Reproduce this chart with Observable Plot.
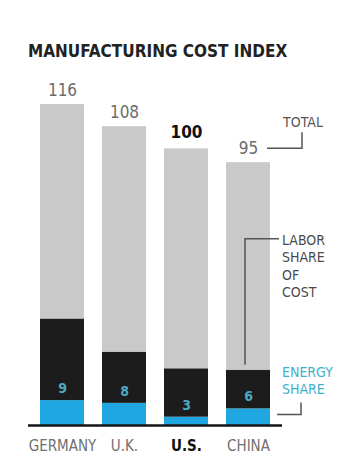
<!DOCTYPE html>
<html><head><meta charset="utf-8">
<script src="https://cdn.jsdelivr.net/npm/d3@7"></script>
<script src="https://cdn.jsdelivr.net/npm/@observablehq/plot@0.6"></script>
<style>
body{margin:0;background:#fff;font-family:"DejaVu Sans Condensed","DejaVu Sans",sans-serif;}
#wrap{width:356px;height:474px;position:relative;overflow:hidden;background:#fff}
#title{position:absolute;left:28px;top:41px;font-weight:bold;font-size:17px;line-height:20px;color:#222;white-space:nowrap}
#chart{position:absolute;left:0;top:70px}
</style></head><body>
<div id="wrap"><div id="title">MANUFACTURING COST INDEX</div><div id="chart"></div></div>
<script>
const countries = ["GERMANY", "U.K.", "U.S.", "CHINA"];
const totals = [116, 108, 100, 95];
const laborShare = [29.5, 18.5, 17.5, 14];
const energyShare = [9, 8, 3, 6];
const segments = ["Energy", "Labor", "Other"];
const segmentColors = ["#1fa7e1", "#1c1c1c", "#c9c9c9"];
const highlight = "U.S.";
const annotationLabels = {total: "TOTAL", labor: ["LABOR", "SHARE", "OF", "COST"], energy: ["ENERGY", "SHARE"]};

const rows = [];
countries.forEach((c, i) => {
  rows.push({country: c, segment: "Energy", value: energyShare[i]});
  rows.push({country: c, segment: "Labor", value: laborShare[i]});
  rows.push({country: c, segment: "Other", value: totals[i] - laborShare[i] - energyShare[i]});
});
const summary = countries.map((c, i) => ({country: c, total: totals[i], labor: laborShare[i], energy: energyShare[i]}));

function annotations(index, scales) {
  const x = scales.x, y = scales.y;
  const bw = typeof x.bandwidth === "function" ? x.bandwidth() : x.bandwidth;
  const ci = countries.indexOf("CHINA");
  const x0 = x("CHINA"), x1 = x0 + bw, xc = x0 + bw / 2;
  const yT = y(totals[ci]);
  const yL = y(energyShare[ci] + laborShare[ci]);
  const yE = y(energyShare[ci]);
  const g = d3.create("svg:g").attr("fill", "none").attr("stroke", "#555").attr("stroke-width", 1.5);
  g.append("path").attr("d", `M${xc + 19},${yT - 14}H${x1 + 32}V${yT - 30}`);
  g.append("path").attr("d", `M${x1 + 9},${yL - 131}H${xc - 3}V${yL - 5}`);
  g.append("path").attr("d", `M${x1 + 7},${yE + 6}H${x1 + 31}V${yE - 6}`);
  const t = g.append("g").attr("stroke", "none").attr("font-size", 14)
    .attr("font-family", '"DejaVu Sans Condensed","DejaVu Sans",sans-serif');
  t.append("text").attr("x", x1 + 33).attr("y", yT - 40).attr("dy", "0.35em")
    .attr("text-anchor", "middle").attr("fill", "#555").text(annotationLabels.total);
  annotationLabels.labor.forEach((s, k) => t.append("text").attr("x", x1 + 12).attr("y", yL - 130 + k * 17.5)
    .attr("dy", "0.35em").attr("text-anchor", "start").attr("fill", "#4a4a4a").text(s));
  annotationLabels.energy.forEach((s, k) => t.append("text").attr("x", x1 + 12).attr("y", yE - 36 + k * 16.5)
    .attr("dy", "0.35em").attr("text-anchor", "start").attr("fill", "#3fb0cb").text(s));
  return g.node();
}

const font = '"DejaVu Sans Condensed","DejaVu Sans",sans-serif';
const plot = Plot.plot({
  width: 356,
  height: 404,
  marginTop: 23,
  marginBottom: 49,
  marginLeft: 28,
  marginRight: 74,
  style: {fontFamily: font, background: "transparent"},
  x: {domain: countries, paddingInner: 0.286, paddingOuter: 0.16, axis: null},
  y: {domain: [0, 120], axis: null},
  color: {domain: segments, range: segmentColors},
  marks: [
    Plot.barY(rows, {x: "country", y: "value", fill: "segment"}),
    Plot.ruleY([0], {stroke: "#151515", strokeWidth: 2.5}),
    Plot.text(summary.filter(d => d.country !== highlight), {x: "country", y: "total", text: d => String(d.total), dy: -14, fontSize: 17, fill: "#6b6b6b"}),
    Plot.text(summary.filter(d => d.country === highlight), {x: "country", y: "total", text: d => String(d.total), dy: -16, fontSize: 17, fontWeight: "bold", fill: "#111"}),
    Plot.text(summary, {x: "country", y: "energy", text: d => String(d.energy), dy: -12, fontSize: 14, fontWeight: "bold", fill: "#4aa9c2"}),
    Plot.text(summary.filter(d => d.country !== highlight), {x: "country", y: () => 0, text: "country", dy: 21, fontSize: 15, fill: "#707070"}),
    Plot.text(summary.filter(d => d.country === highlight), {x: "country", y: () => 0, text: "country", dy: 21, fontSize: 15, fontWeight: "bold", fill: "#111"}),
    annotations
  ]
});
document.getElementById("chart").appendChild(plot);
</script>
</body></html>
